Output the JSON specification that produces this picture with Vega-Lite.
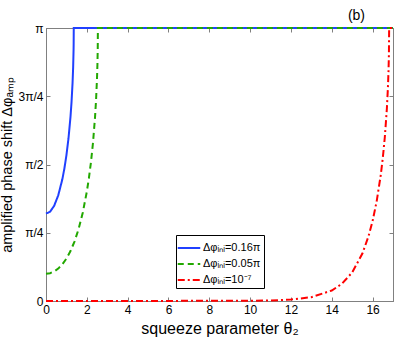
{
  "$schema": "https://vega.github.io/schema/vega-lite/v6.json",
  "width": 347,
  "height": 273,
  "autosize": "none",
  "padding": {"left": 46, "top": 28, "right": 6, "bottom": 39},
  "background": "white",
  "config": {
    "font": "Liberation Sans",
    "view": {"stroke": "#808080", "strokeWidth": 1}
  },
  "title": {"text": "(b)", "anchor": "end", "dx": -32, "offset": -1, "fontSize": 14, "fontWeight": "normal", "color": "#000"},
  "data": {"values": [
    {"s": "Δφᵢₙᵢ=0.16π", "t": 0, "v": 0.32},
    {"s": "Δφᵢₙᵢ=0.16π", "t": 0.2, "v": 0.327},
    {"s": "Δφᵢₙᵢ=0.16π", "t": 0.4, "v": 0.3487},
    {"s": "Δφᵢₙᵢ=0.16π", "t": 0.6, "v": 0.387},
    {"s": "Δφᵢₙᵢ=0.16π", "t": 0.8, "v": 0.4457},
    {"s": "Δφᵢₙᵢ=0.16π", "t": 0.9, "v": 0.4851},
    {"s": "Δφᵢₙᵢ=0.16π", "t": 1.0, "v": 0.5336},
    {"s": "Δφᵢₙᵢ=0.16π", "t": 1.1, "v": 0.5944},
    {"s": "Δφᵢₙᵢ=0.16π", "t": 1.2, "v": 0.6747},
    {"s": "Δφᵢₙᵢ=0.16π", "t": 1.25, "v": 0.7275},
    {"s": "Δφᵢₙᵢ=0.16π", "t": 1.3, "v": 0.7968},
    {"s": "Δφᵢₙᵢ=0.16π", "t": 1.33, "v": 0.8558},
    {"s": "Δφᵢₙᵢ=0.16π", "t": 1.35, "v": 0.9174},
    {"s": "Δφᵢₙᵢ=0.16π", "t": 1.355, "v": 0.9426},
    {"s": "Δφᵢₙᵢ=0.16π", "t": 1.36, "v": 1},
    {"s": "Δφᵢₙᵢ=0.16π", "t": 17, "v": 1},
    {"s": "Δφᵢₙᵢ=0.05π", "t": 0, "v": 0.1},
    {"s": "Δφᵢₙᵢ=0.05π", "t": 0.2, "v": 0.102},
    {"s": "Δφᵢₙᵢ=0.05π", "t": 0.4, "v": 0.1082},
    {"s": "Δφᵢₙᵢ=0.05π", "t": 0.6, "v": 0.1187},
    {"s": "Δφᵢₙᵢ=0.05π", "t": 0.8, "v": 0.1342},
    {"s": "Δφᵢₙᵢ=0.05π", "t": 1.0, "v": 0.1552},
    {"s": "Δφᵢₙᵢ=0.05π", "t": 1.2, "v": 0.1828},
    {"s": "Δφᵢₙᵢ=0.05π", "t": 1.4, "v": 0.2185},
    {"s": "Δφᵢₙᵢ=0.05π", "t": 1.6, "v": 0.2642},
    {"s": "Δφᵢₙᵢ=0.05π", "t": 1.8, "v": 0.3232},
    {"s": "Δφᵢₙᵢ=0.05π", "t": 2.0, "v": 0.4006},
    {"s": "Δφᵢₙᵢ=0.05π", "t": 2.1, "v": 0.4491},
    {"s": "Δφᵢₙᵢ=0.05π", "t": 2.2, "v": 0.5068},
    {"s": "Δφᵢₙᵢ=0.05π", "t": 2.3, "v": 0.5778},
    {"s": "Δφᵢₙᵢ=0.05π", "t": 2.4, "v": 0.6709},
    {"s": "Δφᵢₙᵢ=0.05π", "t": 2.45, "v": 0.7327},
    {"s": "Δφᵢₙᵢ=0.05π", "t": 2.5, "v": 0.8178},
    {"s": "Δφᵢₙᵢ=0.05π", "t": 2.52, "v": 0.8675},
    {"s": "Δφᵢₙᵢ=0.05π", "t": 2.535, "v": 0.9248},
    {"s": "Δφᵢₙᵢ=0.05π", "t": 2.542, "v": 1},
    {"s": "Δφᵢₙᵢ=0.05π", "t": 17, "v": 1},
    {"s": "Δφᵢₙᵢ=10⁻⁷", "t": 0, "v": 0},
    {"s": "Δφᵢₙᵢ=10⁻⁷", "t": 10, "v": 0.0007},
    {"s": "Δφᵢₙᵢ=10⁻⁷", "t": 11, "v": 0.0019},
    {"s": "Δφᵢₙᵢ=10⁻⁷", "t": 12, "v": 0.0052},
    {"s": "Δφᵢₙᵢ=10⁻⁷", "t": 13, "v": 0.0141},
    {"s": "Δφᵢₙᵢ=10⁻⁷", "t": 14, "v": 0.0383},
    {"s": "Δφᵢₙᵢ=10⁻⁷", "t": 14.5, "v": 0.0632},
    {"s": "Δφᵢₙᵢ=10⁻⁷", "t": 15, "v": 0.1045},
    {"s": "Δφᵢₙᵢ=10⁻⁷", "t": 15.5, "v": 0.1737},
    {"s": "Δφᵢₙᵢ=10⁻⁷", "t": 15.8, "v": 0.237},
    {"s": "Δφᵢₙᵢ=10⁻⁷", "t": 16, "v": 0.2931},
    {"s": "Δφᵢₙᵢ=10⁻⁷", "t": 16.2, "v": 0.3652},
    {"s": "Δφᵢₙᵢ=10⁻⁷", "t": 16.4, "v": 0.4613},
    {"s": "Δφᵢₙᵢ=10⁻⁷", "t": 16.5, "v": 0.5233},
    {"s": "Δφᵢₙᵢ=10⁻⁷", "t": 16.6, "v": 0.6006},
    {"s": "Δφᵢₙᵢ=10⁻⁷", "t": 16.7, "v": 0.7053},
    {"s": "Δφᵢₙᵢ=10⁻⁷", "t": 16.75, "v": 0.7795},
    {"s": "Δφᵢₙᵢ=10⁻⁷", "t": 16.78, "v": 0.8417},
    {"s": "Δφᵢₙᵢ=10⁻⁷", "t": 16.8, "v": 0.9047},
    {"s": "Δφᵢₙᵢ=10⁻⁷", "t": 16.811, "v": 1},
    {"s": "Δφᵢₙᵢ=10⁻⁷", "t": 17, "v": 1}
  ]},
  "resolve": {"axis": {"x": "independent", "y": "independent"}},
  "layer": [
    {
      "mark": {"type": "line", "strokeWidth": 2},
      "encoding": {
        "x": {"field": "t", "type": "quantitative",
          "scale": {"domain": [0, 17], "nice": false, "zero": false},
          "axis": {"orient": "bottom", "values": [0,2,4,6,8,10,12,14,16], "title": "squeeze parameter θ₂",
            "titleFontSize": 16, "titleFontWeight": "normal", "titleColor": "#000", "titlePadding": 5,
            "labelFontSize": 12, "labelColor": "#000", "labelPadding": 7, "tickSize": -4,
            "domainColor": "#808080", "tickColor": "#808080", "grid": false, "labelFlush": false}},
        "y": {"field": "v", "type": "quantitative",
          "scale": {"domain": [0, 1], "nice": false, "zero": false},
          "axis": {"orient": "left", "values": [0, 0.25, 0.5, 0.75, 1],
            "labelExpr": "datum.value == 0 ? '0' : datum.value == 0.25 ? 'π/4' : datum.value == 0.5 ? 'π/2' : datum.value == 0.75 ? '3π/4' : 'π'",
            "title": "amplified phase shift Δφₐₘₚ",
            "titleFontSize": 14.5, "titleFontWeight": "normal", "titleColor": "#000", "titlePadding": 4,
            "labelFontSize": 12, "labelColor": "#000", "labelPadding": 7, "tickSize": -4,
            "domainColor": "#808080", "tickColor": "#808080", "grid": false}},
        "color": {"field": "s", "type": "nominal",
          "scale": {"domain": ["Δφᵢₙᵢ=0.16π", "Δφᵢₙᵢ=0.05π", "Δφᵢₙᵢ=10⁻⁷"], "range": ["#2040ff", "#22a800", "#ff0000"]},
          "legend": {"title": null, "orient": "none", "legendX": 130, "legendY": 207,
            "symbolType": "M-1.25,0H1.25", "symbolSize": 324, "symbolStrokeWidth": 2, "labelFontSize": 11, "labelColor": "#000",
            "rowPadding": 1, "padding": 3, "strokeColor": "#000", "fillColor": "#fff", "labelOffset": 4}},
        "strokeDash": {"field": "s", "type": "nominal",
          "scale": {"domain": ["Δφᵢₙᵢ=0.16π", "Δφᵢₙᵢ=0.05π", "Δφᵢₙᵢ=10⁻⁷"], "range": [[1, 0], [6, 4], [7, 3, 2, 3]]},
          "legend": {"title": null, "orient": "none", "legendX": 130, "legendY": 207,
            "symbolType": "M-1.25,0H1.25", "symbolSize": 324, "symbolStrokeWidth": 2, "labelFontSize": 11, "labelColor": "#000",
            "rowPadding": 1, "padding": 3, "strokeColor": "#000", "fillColor": "#fff", "labelOffset": 4}}
      }
    },
    {
      "mark": {"type": "line", "strokeOpacity": 0},
      "encoding": {
        "x": {"field": "t", "type": "quantitative",
          "axis": {"orient": "top", "values": [0,2,4,6,8,10,12,14,16], "labels": false, "title": null, "tickSize": -4,
            "domainColor": "#808080", "tickColor": "#808080", "grid": false}},
        "y": {"field": "v", "type": "quantitative",
          "axis": {"orient": "right", "values": [0, 0.25, 0.5, 0.75, 1], "labels": false, "title": null, "tickSize": -4,
            "domainColor": "#808080", "tickColor": "#808080", "grid": false}}
      }
    }
  ]
}
